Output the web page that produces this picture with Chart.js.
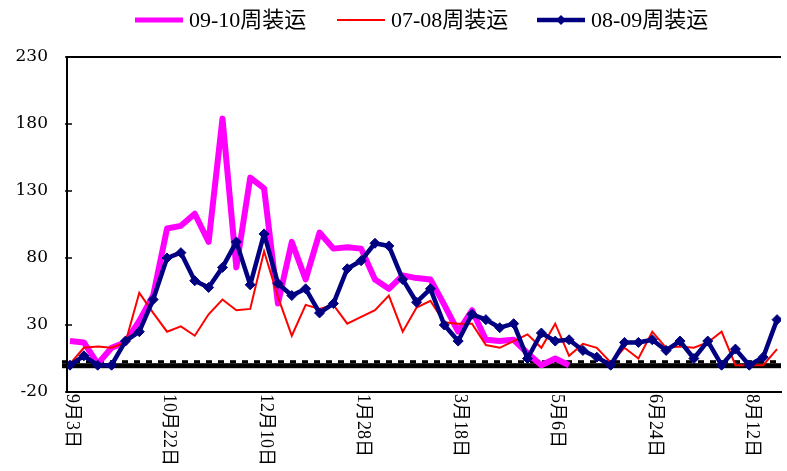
<!DOCTYPE html>
<html>
<head>
<meta charset="utf-8">
<script src="https://cdn.jsdelivr.net/npm/chart.js@4/dist/chart.umd.min.js"></script>
<style>
  html, body { margin: 0; padding: 0; background: #fff; }
  #wrap { width: 787px; height: 471px; }
</style>
</head>
<body>
<div id="wrap"><canvas id="chart" width="787" height="471"></canvas></div>
<script>
// weekly series, first week = 9月3日
const weekLabels = ["9月3日", "10月22日", "12月10日", "1月28日", "3月18日", "5月6日", "6月24日", "8月12日"];
const labelWeeks = [0, 7, 14, 21, 28, 35, 42, 49];
const yTicks = [-20, 30, 80, 130, 180, 230];

const seriesNames = ["09-10周装运", "07-08周装运", "08-09周装运"];

// 09-10 stops after week 36
const ship0910 = [18, 17, 1, 13, 17, 33, 52, 102, 104, 113, 92, 184, 73, 140, 132, 46, 92, 64, 99, 87,
  88, 87, 64, 57, 67, 65, 64, 45, 25, 41, 19, 18, 19, 9, 0, 5, 0];
const ship0708 = [1, 13, 14, 13, 17, 54, 39, 25, 29, 22, 38, 49, 41, 42, 85, 51, 22, 45, 42, 45,
  31, 36, 41, 52, 25, 43, 48, 32, 31, 31, 15, 13, 18, 23, 13, 31, 7, 16, 13, 2,
  13, 5, 25, 13, 14, 13, 17, 25, 0, 0, 0, 12];
const ship0809 = [0, 7, 0, 0, 18, 25, 49, 80, 84, 63, 58, 73, 92, 60, 98, 61, 52, 57, 39, 46,
  72, 78, 91, 89, 64, 47, 57, 30, 18, 38, 34, 28, 31, 5, 24, 18, 19, 11, 6, 0,
  17, 17, 19, 11, 18, 5, 18, 0, 12, 0, 6, 34];

const colors = ["#ff00ff", "#ff0000", "#000080"];

const toPoints = (arr) => arr.map((v, i) => ({ x: i, y: v }));

const cjkFont = (size) => `${size}px "Liberation Serif", "Noto Sans CJK SC", serif`;

// zero band, frame, inner ticks, rotated date labels, legend
const decor = {
  id: "decor",
  beforeDatasetsDraw(chart) {
    const { ctx, chartArea: a, scales: { y } } = chart;
    const y0 = y.getPixelForValue(0);
    ctx.save();
    ctx.fillStyle = "#000";
    ctx.fillRect(a.left - 5, y0 - 2, a.right - a.left + 5, 5);
    ctx.strokeStyle = "#000";
    ctx.lineWidth = 3;
    ctx.setLineDash([6, 6]);
    ctx.beginPath();
    ctx.moveTo(a.left - 5, y0 - 3.5);
    ctx.lineTo(a.right, y0 - 3.5);
    ctx.stroke();
    ctx.restore();
  },
  afterDraw(chart) {
    const { ctx, chartArea: a, scales: { x, y } } = chart;
    ctx.save();
    // top frame line
    ctx.strokeStyle = "#000";
    ctx.lineWidth = 2;
    ctx.beginPath();
    ctx.moveTo(a.left, a.top);
    ctx.lineTo(a.right, a.top);
    ctx.stroke();
    // inner tick marks
    ctx.lineWidth = 1.5;
    y.ticks.forEach((t) => {
      const py = y.getPixelForValue(t.value);
      ctx.beginPath();
      ctx.moveTo(a.left - 2, py);
      ctx.lineTo(a.left + 5, py);
      ctx.stroke();
    });
    // date labels, turned clockwise
    ctx.fillStyle = "#000";
    ctx.font = cjkFont(18);
    ctx.textAlign = "left";
    ctx.textBaseline = "middle";
    labelWeeks.forEach((w, k) => {
      ctx.save();
      ctx.translate(x.getPixelForValue(w) + 2, a.bottom + 2);
      ctx.rotate(Math.PI / 2);
      ctx.fillText(weekLabels[k], 0, 0);
      ctx.restore();
    });
    // legend
    const legendX = [135, 337, 537];
    const widths = [5, 2, 4.5];
    ctx.font = cjkFont(22);
    chart.data.datasets.forEach((ds, i) => {
      const lx = legendX[i];
      ctx.strokeStyle = ds.borderColor;
      ctx.lineWidth = widths[i];
      ctx.beginPath();
      ctx.moveTo(lx, 20);
      ctx.lineTo(lx + 48, 20);
      ctx.stroke();
      if (ds.pointRadius > 0) {
        ctx.fillStyle = ds.borderColor;
        ctx.beginPath();
        ctx.moveTo(lx + 24, 15);
        ctx.lineTo(lx + 29, 20);
        ctx.lineTo(lx + 24, 25);
        ctx.lineTo(lx + 19, 20);
        ctx.closePath();
        ctx.fill();
      }
      ctx.fillStyle = "#000";
      ctx.fillText(ds.label, lx + 54, 21);
    });
    ctx.restore();
  }
};

new Chart(document.getElementById("chart"), {
  type: "line",
  data: {
    datasets: [
      {
        label: seriesNames[0],
        data: toPoints(ship0910),
        borderColor: colors[0],
        backgroundColor: colors[0],
        borderWidth: 6,
        borderJoinStyle: "round",
        pointRadius: 0,
        order: 3,
      },
      {
        label: seriesNames[1],
        data: toPoints(ship0708),
        borderColor: colors[1],
        backgroundColor: colors[1],
        borderWidth: 2,
        pointRadius: 0,
        order: 2,
      },
      {
        label: seriesNames[2],
        data: toPoints(ship0809),
        borderColor: colors[2],
        backgroundColor: colors[2],
        borderWidth: 4.5,
        borderJoinStyle: "round",
        pointStyle: "rectRot",
        pointRadius: 5,
        pointBorderWidth: 1,
        order: 1,
      },
    ],
  },
  options: {
    responsive: false,
    animation: false,
    layout: { padding: { top: 57, right: 0, left: 0, bottom: 0 } },
    plugins: {
      legend: { display: false },
      tooltip: { enabled: false },
    },
    elements: { line: { tension: 0 } },
    scales: {
      x: {
        type: "linear",
        min: -0.215,
        max: 51.285,
        grid: { display: false, drawTicks: false },
        border: { display: true, color: "#000", width: 2 },
        ticks: { display: false },
        afterFit: (s) => { s.height = 79; },
      },
      y: {
        min: -20,
        max: 230,
        grid: { display: false, drawTicks: false },
        border: { display: true, color: "#000", width: 2 },
        ticks: {
          stepSize: 50,
          padding: 19,
          color: "#000",
          font: { family: "DejaVu Serif", size: 17 },
        },
        afterBuildTicks: (s) => { s.ticks = yTicks.map((v) => ({ value: v })); },
        afterFit: (s) => { s.width = 67; },
      },
    },
  },
  plugins: [decor],
});
</script>
</body>
</html>
